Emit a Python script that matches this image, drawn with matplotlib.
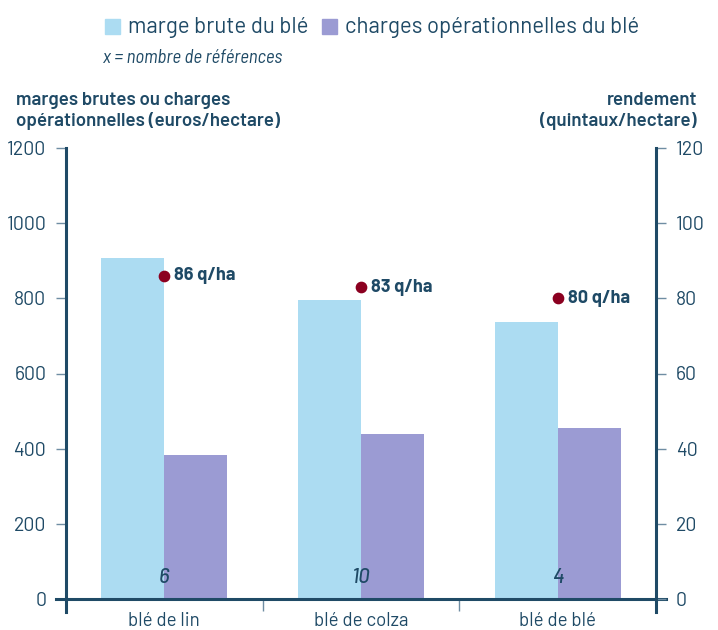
import matplotlib.pyplot as plt
import numpy as np

fam = ['Barlow', 'Roboto', 'DejaVu Sans']
plt.rcParams['font.family'] = fam
semi = ['Barlow Semi Condensed', 'Roboto', 'DejaVu Sans']

# data
categories = ['blé de lin', 'blé de colza', 'blé de blé']
marge_brute = [907, 796, 737]
charges_op = [383, 439, 455]
rendement = [86, 83, 80]
n_refs = ['6', '10', '4']

navy = '#1f4a66'
tickc = '#6f8da3'
blue = '#acdcf2'
purple = '#9b9bd3'
red = '#8b0020'

fig = plt.figure(figsize=(7.18, 6.3), dpi=100)
ax = fig.add_axes([66 / 718, 1 - 599 / 630, 590 / 718, 451 / 630])
ax2 = ax.twinx()

x = np.arange(len(categories))
w = 0.32
ax.bar(x - w / 2, marge_brute, w, color=blue, zorder=2)
ax.bar(x + w / 2, charges_op, w, color=purple, zorder=2)

ax.set_xlim(-0.5, 2.5)
ax.set_ylim(0, 1200)
ax.set_yticks(np.arange(0, 1201, 200))
ax.tick_params(axis='y', direction='out', length=7.2, width=1, color=tickc,
               labelcolor=navy, labelsize=14, pad=7)

# category labels
ax.set_xticks(x)
ax.set_xticklabels(categories, fontsize=13.5, color=navy)
ax.tick_params(axis='x', length=0, pad=9)
ax.set_xticks([0.5, 1.5], minor=True)
ax.tick_params(axis='x', which='minor', direction='out', length=8.6,
               width=1, color=tickc)

ax2.set_ylim(0, 120)
ax2.set_yticks(np.arange(0, 121, 20))
ax2.tick_params(axis='y', direction='out', length=7.2, width=1, color=tickc,
                labelcolor=navy, labelsize=14, pad=7)

for a in (ax, ax2):
    a.spines['top'].set_visible(False)
    for s in ('left', 'right', 'bottom'):
        a.spines[s].set_color(navy)
        a.spines[s].set_linewidth(2.2)
ax2.spines['left'].set_visible(False)
ax2.spines['bottom'].set_visible(False)
ax.spines['right'].set_visible(False)

# spine extensions below / beside the baseline
ax.plot([-0.5, -0.5], [0, -35], color=navy, lw=2.2, clip_on=False)
ax.plot([2.5, 2.5], [0, -35], color=navy, lw=2.2, clip_on=False)
ax.plot([-0.55, -0.5], [0, 0], color=navy, lw=2.2, clip_on=False)
ax.plot([2.5, 2.55], [0, 0], color=navy, lw=2.2, clip_on=False)

# yield dots
ax2.scatter(x, rendement, s=55, color=red, zorder=4)
for xi, r in zip(x, rendement):
    ax2.text(xi + 0.05, r, f'{r} q/ha', fontsize=13, fontweight='bold',
             color=navy, va='center', ha='left')

# number of references
for xi, n in zip(x, n_refs):
    ax.text(xi, 57, n, fontsize=15, style='italic', fontweight='medium',
            color=navy, ha='center', va='center', zorder=3)

# axis titles
fig.text(16 / 718, 1 - 111 / 630, 'marges brutes ou charges\nopérationnelles (euros/hectare)',
         fontsize=13.5, fontweight='semibold', color=navy, ha='left', va='center',
         linespacing=1.2)
fig.text(697 / 718, 1 - 111 / 630, 'rendement\n(quintaux/hectare)',
         fontsize=13.5, fontweight='semibold', color=navy, ha='right', va='center',
         linespacing=1.2, multialignment='right')

# legend
fig.patches.append(plt.Rectangle((105 / 718, 1 - 34 / 630), 15 / 718, 15 / 630,
                                 transform=fig.transFigure, color=blue))
fig.text(128 / 718, 1 - 27 / 630, 'marge brute du blé', fontsize=16,
         color=navy, va='center', ha='left')
fig.patches.append(plt.Rectangle((322 / 718, 1 - 34 / 630), 15 / 718, 15 / 630,
                                 transform=fig.transFigure, color=purple))
fig.text(345 / 718, 1 - 27 / 630, 'charges opérationnelles du blé', fontsize=16,
         color=navy, va='center', ha='left')
fig.text(103 / 718, 1 - 58 / 630, 'x = nombre de références', fontsize=13.5,
         style='italic', color=navy, va='center', ha='left', family=semi)

plt.savefig('out.png', dpi=100)
